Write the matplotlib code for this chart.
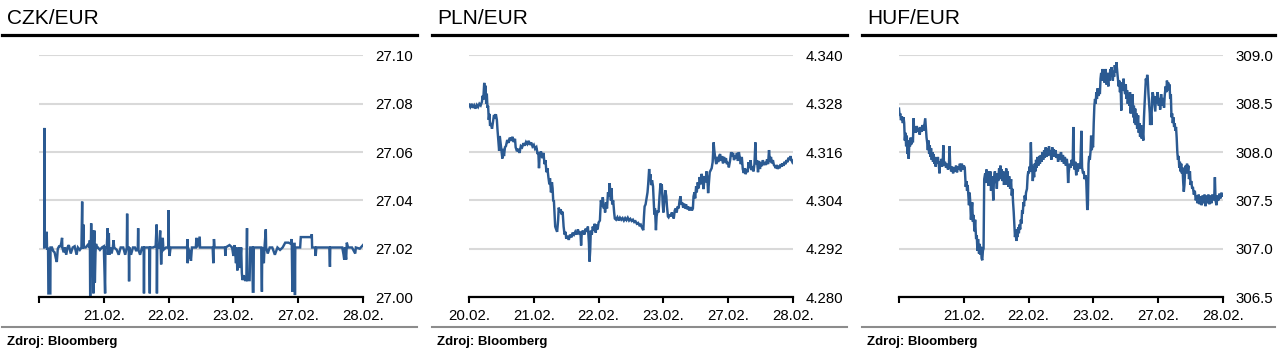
import numpy as np
import matplotlib.pyplot as plt
from matplotlib.lines import Line2D

plt.rcParams['font.family'] = ['Liberation Sans', 'DejaVu Sans']

# x axis: trading days 0..5 (20.02., 21.02., 22.02., 23.02., 27.02., 28.02.)
day_labels_czk = ['', '21.02.', '22.02.', '23.02.', '27.02.', '28.02.']
day_labels_pln = ['20.02.', '21.02.', '22.02.', '23.02.', '27.02.', '28.02.']
day_labels_huf = ['', '21.02.', '22.02.', '23.02.', '27.02.', '28.02.']

czk_ticks = [27.00, 27.02, 27.04, 27.06, 27.08, 27.10]
pln_ticks = [4.280, 4.292, 4.304, 4.316, 4.328, 4.340]
huf_ticks = [306.5, 307.0, 307.5, 308.0, 308.5, 309.0]

# (day, rate)
czk_points = [
    (0.08, 27.0205), (0.083, 27.070), (0.087, 27.021), (0.11, 27.021), (0.119, 27.027),
    (0.124, 27.020), (0.140, 27.020), (0.145, 27.0015), (0.150, 27.0015), (0.165, 27.0015),
    (0.175, 27.0015), (0.178, 27.0205), (0.20, 27.0205), (0.22, 27.019), (0.24, 27.0185),
    (0.26, 27.016), (0.275, 27.0145), (0.29, 27.020), (0.31, 27.021), (0.33, 27.021),
    (0.345, 27.0225), (0.356, 27.0245), (0.36, 27.0205), (0.38, 27.0185), (0.40, 27.0205),
    (0.42, 27.0175), (0.44, 27.0205), (0.46, 27.0215), (0.49, 27.018), (0.52, 27.0205),
    (0.55, 27.021), (0.58, 27.0175), (0.60, 27.0205), (0.63, 27.0195), (0.655, 27.0205),
    (0.666, 27.0395), (0.672, 27.020), (0.685, 27.030), (0.692, 27.0205), (0.72, 27.0205),
    (0.75, 27.0215), (0.775, 27.0205), (0.785, 27.0235), (0.79, 26.9995), (0.80, 27.0205),
    (0.805, 27.0305), (0.812, 27.018), (0.825, 27.0275), (0.83, 27.0205), (0.84, 27.0015),
    (0.845, 27.0205), (0.855, 27.0275), (0.862, 27.006), (0.872, 27.0185), (0.88, 27.022),
    (0.895, 27.0205), (0.91, 27.0205), (0.94, 27.0195), (0.97, 27.0205), (1.00, 27.021),
    (1.02, 27.0015), (1.025, 27.0205), (1.045, 27.0205), (1.06, 27.0285), (1.065, 27.0175),
    (1.078, 27.0265), (1.085, 27.0175), (1.10, 27.0205), (1.12, 27.018), (1.14, 27.0205),
    (1.15, 27.0235), (1.16, 27.0205), (1.20, 27.0195), (1.23, 27.0175), (1.26, 27.0205),
    (1.30, 27.0205), (1.33, 27.0175), (1.355, 27.0205), (1.36, 27.0345), (1.366, 27.0205),
    (1.385, 27.0205), (1.39, 27.0065), (1.395, 27.0205), (1.42, 27.0175), (1.45, 27.0205),
    (1.48, 27.0205), (1.50, 27.019), (1.525, 27.0205), (1.53, 27.0285), (1.535, 27.0195),
    (1.56, 27.0175), (1.59, 27.0205), (1.615, 27.0205), (1.62, 27.0015), (1.625, 27.0205),
    (1.66, 27.0205), (1.70, 27.0205), (1.71, 27.0015), (1.715, 27.0205), (1.76, 27.0205),
    (1.80, 27.021), (1.815, 27.030), (1.82, 27.0015), (1.825, 27.0205), (1.85, 27.0205),
    (1.87, 27.0275), (1.885, 27.0135), (1.895, 27.0205), (1.91, 27.0245), (1.92, 27.0195),
    (1.96, 27.0205), (1.995, 27.0205), (2.00, 27.036), (2.005, 27.0205), (2.015, 27.017),
    (2.03, 27.0205), (2.10, 27.0205), (2.15, 27.0205), (2.20, 27.0205), (2.25, 27.0205),
    (2.285, 27.0205), (2.29, 27.024), (2.295, 27.014), (2.30, 27.0205), (2.32, 27.016),
    (2.33, 27.0195), (2.345, 27.015), (2.36, 27.0205), (2.38, 27.0205), (2.42, 27.0205),
    (2.43, 27.0245), (2.44, 27.0205), (2.48, 27.025), (2.485, 27.0205), (2.55, 27.0205),
    (2.62, 27.0205), (2.68, 27.0205), (2.69, 27.014), (2.70, 27.024), (2.71, 27.0205),
    (2.80, 27.0205), (2.87, 27.0205), (2.875, 27.017), (2.88, 27.0205), (2.94, 27.0215),
    (2.98, 27.0205), (3.00, 27.017), (3.02, 27.0215), (3.04, 27.014), (3.05, 27.0205),
    (3.06, 27.011), (3.08, 27.015), (3.09, 27.0205), (3.10, 27.012), (3.12, 27.0205),
    (3.13, 27.010), (3.14, 27.007), (3.16, 27.009), (3.18, 27.007), (3.20, 27.007),
    (3.21, 27.0285), (3.215, 27.007), (3.25, 27.007), (3.26, 27.0205), (3.29, 27.0205),
    (3.30, 27.0022), (3.31, 27.0022), (3.315, 27.0205), (3.35, 27.0205), (3.40, 27.0205),
    (3.43, 27.0205), (3.44, 27.0022), (3.445, 27.0205), (3.47, 27.014), (3.48, 27.0205),
    (3.50, 27.028), (3.505, 27.0205), (3.53, 27.018), (3.56, 27.0205), (3.60, 27.0205),
    (3.64, 27.0175), (3.68, 27.0205), (3.72, 27.0195), (3.76, 27.0205), (3.80, 27.0225),
    (3.85, 27.0225), (3.89, 27.022), (3.90, 27.024), (3.91, 27.0022), (3.915, 27.022),
    (3.945, 27.022), (3.95, 27.0008), (3.955, 27.0205), (4.00, 27.0205), (4.03, 27.0205),
    (4.04, 27.0248), (4.10, 27.0248), (4.15, 27.0248), (4.20, 27.0248), (4.21, 27.026),
    (4.215, 27.0205), (4.26, 27.0205), (4.27, 27.017), (4.28, 27.0205), (4.35, 27.0205),
    (4.42, 27.0205), (4.48, 27.0205), (4.49, 27.0125), (4.495, 27.0205), (4.55, 27.0205),
    (4.62, 27.0205), (4.68, 27.0205), (4.70, 27.0175), (4.71, 27.0155), (4.72, 27.0205),
    (4.74, 27.0155), (4.75, 27.0225), (4.77, 27.0205), (4.83, 27.0205), (4.88, 27.018),
    (4.89, 27.0205), (4.95, 27.020), (5.00, 27.0215),
]

pln_points = [
    (0.00, 4.3278), (0.02, 4.3272), (0.04, 4.3280), (0.06, 4.3270), (0.08, 4.3276),
    (0.10, 4.3268), (0.12, 4.3277), (0.14, 4.3272), (0.16, 4.3280), (0.18, 4.3276),
    (0.20, 4.3285), (0.21, 4.3300), (0.22, 4.3290), (0.235, 4.3332), (0.245, 4.3310),
    (0.255, 4.3325), (0.265, 4.3280), (0.275, 4.3305), (0.285, 4.3270), (0.295, 4.3275),
    (0.305, 4.3240), (0.315, 4.3255), (0.325, 4.3225), (0.34, 4.3232), (0.355, 4.3218),
    (0.37, 4.3235), (0.385, 4.3252), (0.40, 4.3248), (0.415, 4.3254), (0.43, 4.3240),
    (0.44, 4.3215), (0.455, 4.3185), (0.465, 4.3163), (0.475, 4.3200), (0.49, 4.3178),
    (0.50, 4.3165), (0.515, 4.3144), (0.525, 4.3168), (0.54, 4.3150), (0.555, 4.3172),
    (0.57, 4.3175), (0.59, 4.3190), (0.61, 4.3183), (0.63, 4.3196), (0.65, 4.3188),
    (0.67, 4.3198), (0.69, 4.3185), (0.71, 4.3193), (0.72, 4.3172), (0.74, 4.3162),
    (0.76, 4.3168), (0.78, 4.3158), (0.80, 4.3175), (0.82, 4.3172), (0.84, 4.3182),
    (0.86, 4.3176), (0.88, 4.3185), (0.90, 4.3180), (0.92, 4.3188), (0.94, 4.3178),
    (0.96, 4.3184), (0.98, 4.3174), (1.00, 4.3178), (1.02, 4.3168), (1.04, 4.3172),
    (1.06, 4.3155), (1.07, 4.3160), (1.08, 4.3120), (1.09, 4.3150), (1.11, 4.3162),
    (1.13, 4.3145), (1.15, 4.3158), (1.165, 4.3130), (1.18, 4.3140), (1.195, 4.3110),
    (1.21, 4.3120), (1.225, 4.3098), (1.24, 4.3080), (1.25, 4.3095), (1.265, 4.3060),
    (1.28, 4.3085), (1.29, 4.3070), (1.30, 4.3038), (1.31, 4.3040), (1.32, 4.3005),
    (1.33, 4.2975), (1.345, 4.2968), (1.36, 4.2962), (1.375, 4.2990), (1.385, 4.3022),
    (1.40, 4.3010), (1.415, 4.3018), (1.43, 4.3005), (1.445, 4.3012), (1.46, 4.2975),
    (1.475, 4.2955), (1.49, 4.2962), (1.50, 4.2945), (1.52, 4.2952), (1.54, 4.2942),
    (1.56, 4.2955), (1.58, 4.2948), (1.60, 4.2960), (1.62, 4.2955), (1.64, 4.2962),
    (1.66, 4.2955), (1.68, 4.2968), (1.70, 4.2958), (1.72, 4.2960), (1.73, 4.2928),
    (1.74, 4.2958), (1.76, 4.2965), (1.78, 4.2955), (1.80, 4.2970), (1.82, 4.2962),
    (1.835, 4.2975), (1.85, 4.2935), (1.86, 4.2888), (1.87, 4.2915), (1.88, 4.2965),
    (1.895, 4.2955), (1.91, 4.2975), (1.925, 4.2965), (1.94, 4.2982), (1.955, 4.2960),
    (1.97, 4.2980), (1.985, 4.2968), (2.00, 4.2985), (2.02, 4.2990), (2.035, 4.3040),
    (2.05, 4.3025), (2.065, 4.3048), (2.08, 4.3020), (2.09, 4.3030), (2.10, 4.3010),
    (2.115, 4.3035), (2.13, 4.3020), (2.145, 4.3060), (2.16, 4.3050), (2.17, 4.3083),
    (2.18, 4.3060), (2.19, 4.3040), (2.20, 4.3070), (2.21, 4.3030), (2.225, 4.3040),
    (2.24, 4.3010), (2.25, 4.2995), (2.27, 4.2992), (2.29, 4.2998), (2.31, 4.2990),
    (2.33, 4.2997), (2.35, 4.2992), (2.37, 4.2996), (2.39, 4.2990), (2.41, 4.2996),
    (2.43, 4.2991), (2.45, 4.2997), (2.47, 4.2990), (2.49, 4.2994), (2.51, 4.2989),
    (2.53, 4.2992), (2.55, 4.2986), (2.57, 4.2988), (2.59, 4.2982), (2.61, 4.2984),
    (2.63, 4.2978), (2.65, 4.2980), (2.67, 4.2972), (2.69, 4.2966), (2.70, 4.3000),
    (2.71, 4.3025), (2.725, 4.3030), (2.74, 4.3045), (2.755, 4.3060), (2.765, 4.3080),
    (2.78, 4.3118), (2.79, 4.3095), (2.80, 4.3105), (2.81, 4.3078), (2.825, 4.3090),
    (2.84, 4.3075), (2.85, 4.3040), (2.86, 4.3005), (2.87, 4.3020), (2.885, 4.2966),
    (2.895, 4.3000), (2.91, 4.3015), (2.925, 4.3010), (2.94, 4.3050), (2.955, 4.3082),
    (2.965, 4.3070), (2.975, 4.3080), (2.99, 4.3030), (3.00, 4.3010), (3.015, 4.3040),
    (3.03, 4.3065), (3.045, 4.3050), (3.055, 4.3025), (3.07, 4.3000), (3.08, 4.2998),
    (3.10, 4.3005), (3.11, 4.3000), (3.13, 4.3010), (3.145, 4.3003), (3.16, 4.2995),
    (3.175, 4.3015), (3.19, 4.3020), (3.205, 4.3010), (3.22, 4.3025), (3.235, 4.3020),
    (3.25, 4.3040), (3.265, 4.3050), (3.275, 4.3030), (3.29, 4.3035), (3.305, 4.3022),
    (3.32, 4.3032), (3.335, 4.3020), (3.35, 4.3030), (3.365, 4.3018), (3.38, 4.3025),
    (3.40, 4.3015), (3.42, 4.3023), (3.44, 4.3015), (3.455, 4.3020), (3.465, 4.3050),
    (3.48, 4.3060), (3.49, 4.3045), (3.505, 4.3075), (3.515, 4.3060), (3.53, 4.3085),
    (3.545, 4.3070), (3.56, 4.3098), (3.575, 4.3080), (3.59, 4.3106), (3.605, 4.3090),
    (3.62, 4.3068), (3.635, 4.3100), (3.65, 4.3085), (3.665, 4.3112), (3.68, 4.3090),
    (3.69, 4.3058), (3.70, 4.3080), (3.715, 4.3110), (3.73, 4.3115), (3.745, 4.3120),
    (3.76, 4.3135), (3.775, 4.3184), (3.785, 4.3165), (3.80, 4.3145), (3.815, 4.3130),
    (3.83, 4.3148), (3.845, 4.3135), (3.86, 4.3150), (3.875, 4.3155), (3.89, 4.3138),
    (3.905, 4.3150), (3.92, 4.3132), (3.935, 4.3148), (3.95, 4.3135), (3.965, 4.3145),
    (3.98, 4.3130), (3.995, 4.3135), (4.01, 4.3122), (4.03, 4.3140), (4.045, 4.3160),
    (4.06, 4.3150), (4.075, 4.3158), (4.09, 4.3140), (4.105, 4.3152), (4.12, 4.3145),
    (4.135, 4.3158), (4.15, 4.3138), (4.165, 4.3160), (4.18, 4.3145), (4.195, 4.3130),
    (4.21, 4.3148), (4.225, 4.3118), (4.24, 4.3108), (4.255, 4.3120), (4.27, 4.3105),
    (4.285, 4.3118), (4.30, 4.3110), (4.315, 4.3135), (4.33, 4.3120), (4.345, 4.3140),
    (4.36, 4.3115), (4.375, 4.3125), (4.39, 4.3112), (4.405, 4.3130), (4.42, 4.3184),
    (4.43, 4.3130), (4.445, 4.3140), (4.46, 4.3110), (4.475, 4.3138), (4.49, 4.3118),
    (4.505, 4.3135), (4.52, 4.3125), (4.535, 4.3140), (4.55, 4.3128), (4.565, 4.3135),
    (4.58, 4.3128), (4.60, 4.3142), (4.615, 4.3130), (4.63, 4.3165), (4.645, 4.3135),
    (4.66, 4.3148), (4.675, 4.3132), (4.69, 4.3140), (4.705, 4.3128), (4.72, 4.3125),
    (4.735, 4.3120), (4.75, 4.3128), (4.765, 4.3118), (4.78, 4.3126), (4.795, 4.3120),
    (4.81, 4.3130), (4.825, 4.3124), (4.84, 4.3132), (4.855, 4.3126), (4.87, 4.3136),
    (4.885, 4.3130), (4.90, 4.3140), (4.915, 4.3135), (4.93, 4.3146), (4.945, 4.3140),
    (4.96, 4.3150), (4.975, 4.3140), (4.99, 4.3135), (5.00, 4.3138),
]

huf_points = [
    (0.00, 308.45), (0.01, 308.38), (0.02, 308.40), (0.03, 308.33), (0.045, 308.37),
    (0.06, 308.30), (0.07, 308.36), (0.08, 308.30), (0.09, 308.12), (0.10, 308.20),
    (0.11, 308.06), (0.12, 308.17), (0.13, 307.98), (0.14, 308.08), (0.15, 307.93),
    (0.16, 308.12), (0.17, 308.06), (0.18, 308.15), (0.19, 308.08), (0.20, 308.12),
    (0.215, 308.10), (0.225, 308.35), (0.235, 308.20), (0.25, 308.26), (0.26, 308.20),
    (0.275, 308.27), (0.29, 308.21), (0.305, 308.25), (0.32, 308.18), (0.335, 308.26),
    (0.35, 308.21), (0.365, 308.28), (0.38, 308.22), (0.395, 308.30), (0.405, 308.35),
    (0.415, 308.25), (0.425, 308.15), (0.435, 308.10), (0.445, 308.02), (0.455, 308.12),
    (0.465, 307.98), (0.475, 308.07), (0.485, 307.95), (0.495, 308.04), (0.505, 307.92),
    (0.515, 308.00), (0.525, 307.90), (0.535, 307.98), (0.545, 307.88), (0.555, 307.95),
    (0.565, 307.85), (0.575, 307.93), (0.59, 307.88), (0.60, 307.95), (0.615, 307.86),
    (0.625, 307.78), (0.635, 307.90), (0.645, 307.86), (0.655, 307.93), (0.665, 307.85),
    (0.675, 307.90), (0.685, 308.07), (0.695, 307.86), (0.71, 307.90), (0.725, 307.84),
    (0.74, 307.88), (0.755, 307.82), (0.77, 307.86), (0.78, 308.06), (0.79, 307.86),
    (0.805, 307.80), (0.82, 307.85), (0.835, 307.78), (0.85, 307.84), (0.865, 307.80),
    (0.88, 307.86), (0.895, 307.79), (0.91, 307.85), (0.925, 307.82), (0.94, 307.88),
    (0.955, 307.80), (0.97, 307.88), (0.985, 307.82), (1.00, 307.86), (1.015, 307.84),
    (1.03, 307.64), (1.04, 307.70), (1.05, 307.60), (1.06, 307.66), (1.07, 307.56),
    (1.08, 307.45), (1.09, 307.58), (1.10, 307.48), (1.11, 307.30), (1.12, 307.40),
    (1.13, 307.48), (1.14, 307.28), (1.15, 307.35), (1.165, 307.18), (1.175, 307.30),
    (1.19, 307.10), (1.20, 307.14), (1.21, 306.98), (1.22, 307.10), (1.235, 306.95),
    (1.245, 307.05), (1.255, 306.94), (1.265, 307.02), (1.275, 306.90), (1.285, 306.88),
    (1.295, 306.98), (1.305, 307.00), (1.315, 307.72), (1.33, 307.78), (1.34, 307.68),
    (1.35, 307.82), (1.36, 307.72), (1.37, 307.80), (1.38, 307.65), (1.39, 307.78),
    (1.40, 307.70), (1.41, 307.80), (1.42, 307.60), (1.435, 307.75), (1.445, 307.66),
    (1.455, 307.50), (1.465, 307.72), (1.48, 307.80), (1.49, 307.68), (1.50, 307.76),
    (1.51, 307.62), (1.52, 307.78), (1.53, 307.70), (1.545, 307.83), (1.555, 307.72),
    (1.565, 307.86), (1.575, 307.74), (1.585, 307.82), (1.60, 307.70), (1.61, 307.80),
    (1.62, 307.66), (1.635, 307.78), (1.645, 307.72), (1.655, 307.83), (1.665, 307.66),
    (1.675, 307.80), (1.69, 307.64), (1.70, 307.75), (1.715, 307.62), (1.73, 307.72),
    (1.74, 307.55), (1.75, 307.62), (1.76, 307.48), (1.77, 307.38), (1.78, 307.25),
    (1.79, 307.12), (1.80, 307.20), (1.81, 307.08), (1.82, 307.16), (1.83, 307.12),
    (1.84, 307.22), (1.85, 307.16), (1.86, 307.25), (1.87, 307.20), (1.88, 307.30),
    (1.89, 307.26), (1.90, 307.40), (1.91, 307.36), (1.92, 307.48), (1.93, 307.44),
    (1.94, 307.55), (1.95, 307.50), (1.96, 307.58), (1.975, 307.62), (1.985, 307.75),
    (1.995, 307.80), (2.005, 307.78), (2.015, 307.85), (2.025, 307.80), (2.035, 308.10),
    (2.045, 307.88), (2.055, 307.84), (2.065, 307.70), (2.075, 307.82), (2.085, 307.74),
    (2.095, 307.88), (2.105, 307.80), (2.115, 307.92), (2.125, 307.84), (2.14, 307.95),
    (2.15, 307.86), (2.165, 307.96), (2.175, 307.88), (2.19, 307.97), (2.20, 307.90),
    (2.215, 308.00), (2.225, 307.92), (2.24, 308.02), (2.25, 307.94), (2.265, 308.05),
    (2.275, 307.95), (2.29, 308.04), (2.30, 307.96), (2.315, 308.06), (2.325, 307.97),
    (2.34, 308.02), (2.35, 307.92), (2.365, 308.05), (2.375, 307.98), (2.39, 308.03),
    (2.40, 307.95), (2.415, 308.02), (2.43, 307.94), (2.445, 307.98), (2.455, 307.90),
    (2.47, 307.98), (2.485, 307.92), (2.50, 308.00), (2.515, 307.90), (2.53, 307.97),
    (2.545, 307.88), (2.56, 307.95), (2.575, 307.86), (2.59, 307.93), (2.60, 307.86),
    (2.61, 307.68), (2.62, 307.80), (2.635, 307.88), (2.65, 307.84), (2.665, 307.92),
    (2.68, 307.86), (2.69, 308.26), (2.70, 307.90), (2.71, 307.82), (2.72, 307.90),
    (2.735, 307.76), (2.75, 307.88), (2.76, 307.80), (2.775, 307.88), (2.79, 307.83),
    (2.80, 307.90), (2.815, 308.22), (2.825, 307.84), (2.84, 307.78), (2.85, 307.80),
    (2.865, 307.72), (2.88, 307.76), (2.89, 307.70), (2.905, 307.40), (2.915, 307.45),
    (2.925, 307.88), (2.935, 307.96), (2.945, 307.92), (2.955, 308.00), (2.965, 308.17),
    (2.975, 308.02), (2.985, 308.08), (2.995, 308.05), (3.005, 308.30), (3.015, 308.48),
    (3.025, 308.55), (3.035, 308.50), (3.045, 308.62), (3.055, 308.55), (3.065, 308.66),
    (3.075, 308.58), (3.085, 308.64), (3.10, 308.60), (3.11, 308.76), (3.12, 308.82),
    (3.13, 308.74), (3.14, 308.86), (3.15, 308.78), (3.16, 308.84), (3.17, 308.72),
    (3.18, 308.80), (3.19, 308.86), (3.20, 308.70), (3.21, 308.82), (3.22, 308.76),
    (3.23, 308.68), (3.24, 308.82), (3.25, 308.74), (3.26, 308.86), (3.27, 308.78),
    (3.28, 308.88), (3.29, 308.80), (3.30, 308.74), (3.31, 308.84), (3.32, 308.78),
    (3.33, 308.90), (3.345, 308.82), (3.355, 308.93), (3.365, 308.85), (3.375, 308.78),
    (3.39, 308.68), (3.40, 308.74), (3.41, 308.62), (3.42, 308.70), (3.43, 308.43),
    (3.435, 308.66), (3.445, 308.72), (3.455, 308.64), (3.465, 308.76), (3.475, 308.66),
    (3.49, 308.60), (3.50, 308.70), (3.51, 308.55), (3.52, 308.64), (3.53, 308.50),
    (3.545, 308.60), (3.555, 308.48), (3.565, 308.62), (3.575, 308.40), (3.585, 308.52),
    (3.595, 308.46), (3.605, 308.60), (3.615, 308.36), (3.625, 308.48), (3.635, 308.30),
    (3.645, 308.45), (3.655, 308.28), (3.665, 308.40), (3.675, 308.24), (3.69, 308.38),
    (3.70, 308.20), (3.71, 308.30), (3.72, 308.16), (3.735, 308.28), (3.745, 308.14),
    (3.76, 308.20), (3.77, 308.12), (3.78, 308.35), (3.79, 308.50), (3.80, 308.62),
    (3.81, 308.76), (3.82, 308.70), (3.83, 308.80), (3.84, 308.74), (3.85, 308.60),
    (3.86, 308.50), (3.87, 308.40), (3.875, 308.28), (3.885, 308.40), (3.895, 308.28),
    (3.905, 308.55), (3.915, 308.62), (3.925, 308.58), (3.94, 308.50), (3.955, 308.42),
    (3.965, 308.58), (3.975, 308.50), (3.99, 308.62), (4.00, 308.54), (4.01, 308.48),
    (4.02, 308.56), (4.03, 308.44), (4.045, 308.60), (4.055, 308.52), (4.065, 308.48),
    (4.08, 308.56), (4.09, 308.46), (4.10, 308.58), (4.115, 308.68), (4.125, 308.62),
    (4.135, 308.74), (4.145, 308.68), (4.155, 308.72), (4.165, 308.64), (4.175, 308.70),
    (4.185, 308.55), (4.195, 308.60), (4.205, 308.36), (4.215, 308.40), (4.225, 308.30),
    (4.235, 308.36), (4.245, 308.26), (4.255, 308.30), (4.265, 308.22), (4.275, 308.26),
    (4.285, 308.15), (4.295, 308.00), (4.305, 307.92), (4.315, 307.96), (4.325, 307.84),
    (4.335, 307.90), (4.345, 307.80), (4.355, 307.88), (4.365, 307.78), (4.375, 307.84),
    (4.385, 307.70), (4.395, 307.59), (4.405, 307.66), (4.415, 307.80), (4.425, 307.86),
    (4.435, 307.78), (4.445, 307.88), (4.455, 307.80), (4.465, 307.86), (4.475, 307.72),
    (4.49, 307.80), (4.50, 307.66), (4.51, 307.70), (4.525, 307.62), (4.535, 307.64),
    (4.55, 307.56), (4.565, 307.60), (4.58, 307.50), (4.595, 307.55), (4.61, 307.47),
    (4.625, 307.56), (4.64, 307.46), (4.655, 307.54), (4.67, 307.45), (4.685, 307.55),
    (4.70, 307.47), (4.715, 307.56), (4.73, 307.44), (4.745, 307.55), (4.76, 307.47),
    (4.775, 307.56), (4.79, 307.46), (4.805, 307.55), (4.82, 307.47), (4.835, 307.56),
    (4.85, 307.50), (4.865, 307.54), (4.875, 307.74), (4.885, 307.50), (4.90, 307.45),
    (4.915, 307.55), (4.93, 307.50), (4.945, 307.57), (4.96, 307.52), (4.975, 307.58),
    (4.99, 307.54), (5.00, 307.56),
]

W, H = 1285, 356
line_col = '#2b5a92'

fig = plt.figure(figsize=(W / 100, H / 100), dpi=100)

panels = [
    (0, 'CZK/EUR', czk_points, czk_ticks, '{:.2f}', day_labels_czk),
    (430, 'PLN/EUR', pln_points, pln_ticks, '{:.3f}', day_labels_pln),
    (860, 'HUF/EUR', huf_points, huf_ticks, '{:.1f}', day_labels_huf),
]

for off, title, pts, yt, fmt, xl in panels:
    ax = fig.add_axes([(off + 39) / W, (H - 297) / H, 324 / W, 242 / H])
    t, v = np.array(pts).T
    ax.plot(t, v, color=line_col, lw=1.75, solid_joinstyle='miter')

    step = yt[1] - yt[0]
    ax.set_xlim(0, 5)
    ax.set_ylim(yt[0], yt[-1] + step * 0.01)
    ax.set_yticks(yt)
    ax.set_yticklabels([fmt.format(y) for y in yt])
    ax.set_xticks(range(6))
    ax.set_xticklabels(xl)

    ax.yaxis.tick_right()
    ax.tick_params(axis='y', length=0, pad=9, labelsize=10.8, colors='black')
    ax.tick_params(axis='x', length=4, width=1.5, direction='out', pad=4.5,
                   labelsize=10.8, colors='black')
    ax.grid(axis='y', color='#d9d9d9', lw=1.5)
    ax.set_axisbelow(True)
    for s in ['top', 'left', 'right']:
        ax.spines[s].set_visible(False)
    ax.spines['bottom'].set_linewidth(1.6)
    ax.spines['bottom'].set_zorder(5)

    right = 417 if off < 860 else 415
    fig.text((off + 7) / W, 1 - 24 / H, title, fontsize=15, va='baseline', ha='left')
    fig.add_artist(Line2D([(off + 2) / W, (off + right) / W], [1 - 34.8 / H] * 2,
                          color='black', lw=2.3))
    fig.add_artist(Line2D([(off + 2) / W, (off + right) / W], [1 - 327 / H] * 2,
                          color='#8c8c8c', lw=1.5))
    fig.text((off + 7) / W, 1 - 345 / H, 'Zdroj: Bloomberg', fontsize=9.5,
             fontweight='bold', va='baseline', ha='left')

fig.savefig('out.png', dpi=100)
